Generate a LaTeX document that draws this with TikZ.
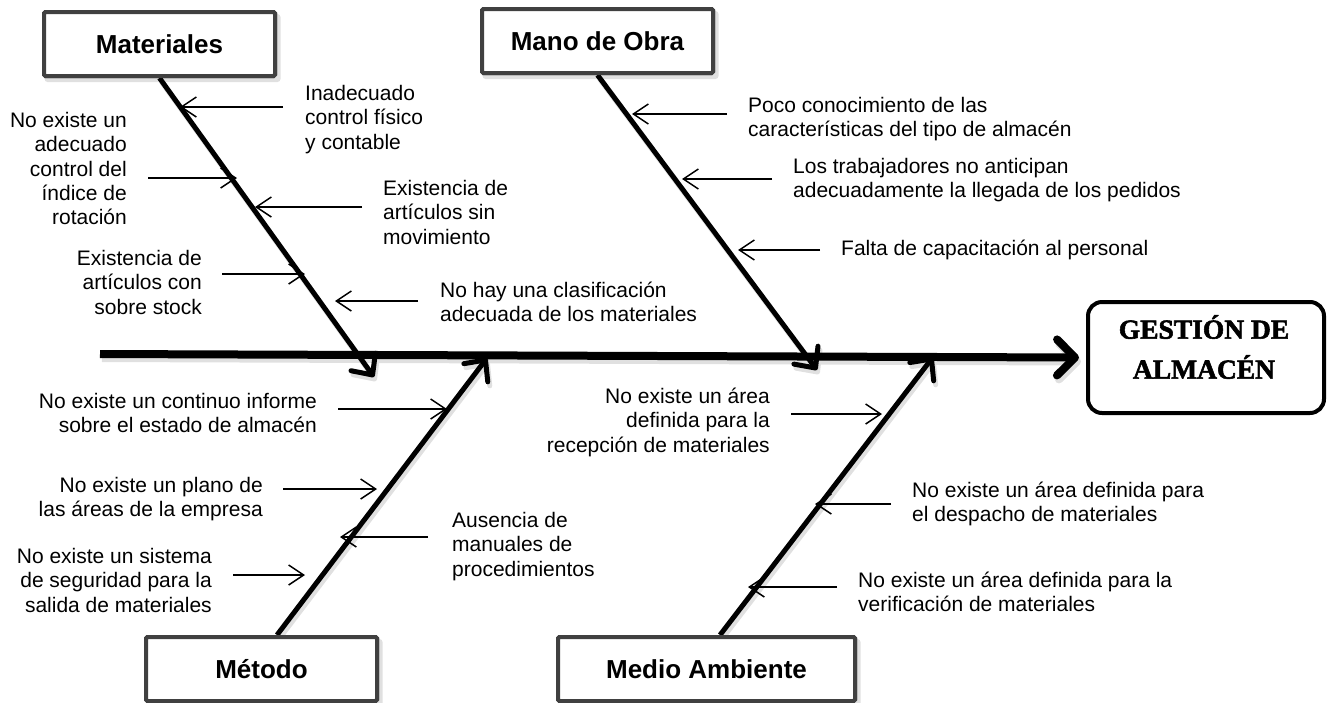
\documentclass[tikz,border=0pt]{standalone}
\usepackage{fontspec}
\setmainfont{Liberation Sans}
\newfontfamily\titlefont[BoldFeatures={FakeBold=2}]{Liberation Serif}
\usetikzlibrary{arrows.meta}
\begin{document}
\begin{tikzpicture}[x=1pt,y=-1pt,
  lbl/.style={font=\fontsize{21}{24.3}\selectfont, inner sep=0pt},
  lblL/.style={lbl, align=left, anchor=north west},
  lblR/.style={lbl, align=right, anchor=north east},
  cat/.style={draw=black!75, line width=4pt, fill=white, rounded corners=1.5pt,
    font=\bfseries\fontsize{26}{30}\selectfont, minimum width=231pt, minimum height=64pt, inner sep=0pt},
  catshadow/.style={fill=black!12, draw=none, rounded corners=3pt,
    minimum width=236pt, minimum height=68pt, inner sep=0pt},
  effect/.style={draw=black, line width=4pt, fill=white, rounded corners=14pt,
    minimum width=236pt, minimum height=111pt, inner sep=0pt},
  effecttext/.style={font=\titlefont\bfseries\fontsize{27.5}{40}\selectfont, align=center, inner sep=0pt},
  bone/.style={line width=5pt, -{Straight Barb[length=16pt,width=30pt,line cap=round,line join=round]}},
  spine/.style={line width=8pt, -{Straight Barb[length=18pt,width=36pt,line cap=round,line join=round]}},
  shadowline/.style={draw=black!12, transform canvas={shift={(2,4)}}},
  cause/.style={line width=1.5pt, -{Straight Barb[length=15pt,width=20pt]}}
]
\useasboundingbox (0,0) rectangle (1333,702);

% shadows of boxes
\node[catshadow] (matS) at (162.5,48) {};
\node[catshadow] (manoS) at (600.5,45) {};
\node[catshadow] (metS) at (264.5,673) {};
\node[catshadow, minimum width=302pt] (medS) at (709.5,673) {};

% category boxes and effect
\node[cat] (mat) at (159.5,44) {Materiales};
\node[cat] (mano) at (597.5,41) {Mano de Obra};
\node[cat] (met) at (261.5,669) {Método};
\node[cat, minimum width=297pt] (med) at (706.5,669) {Medio Ambiente};
\node[effect] (gest) at (1206,357.5) {};
\node[effecttext] (gestT) at (1204,347) {GESTIÓN DE\\ALMACÉN};

% spine and bones
\coordinate (sL) at (100,354);
\coordinate (matT) at (374,377);
\coordinate (manoT) at (817,370);
\coordinate (metT) at (487,358);
\coordinate (medT) at (933,357);
\draw[spine, shadowline] (sL) -- ([xshift=-7pt]gest.west);
\draw[bone, shadowline] (mat.south) -- (matT);
\draw[bone, shadowline] (mano.south) -- (manoT);
\draw[bone, shadowline] ([xshift=15.5pt]met.north) -- (metT);
\draw[bone, shadowline] ([xshift=13.5pt]med.north) -- (medT);
\draw[spine] (sL) -- ([xshift=-7pt]gest.west);
\draw[bone] (mat.south) -- (matT);
\draw[bone] (mano.south) -- (manoT);
\draw[bone] ([xshift=15.5pt]met.north) -- (metT);
\draw[bone] ([xshift=13.5pt]med.north) -- (medT);
% redraw boxes on top of bone starts
\node[cat] at (mat) {Materiales};
\node[cat] at (mano) {Mano de Obra};
\node[cat] at (met) {Método};
\node[cat, minimum width=297pt] at (med) {Medio Ambiente};

% cause arrows: start (a) -> tip (b)
\coordinate (a1) at (283,107);  \coordinate (b1) at (180,107);
\coordinate (a2) at (148,178);  \coordinate (b2) at (237,178);
\coordinate (a3) at (362,207);  \coordinate (b3) at (255,207);
\coordinate (a4) at (222,274);  \coordinate (b4) at (305,274);
\coordinate (a5) at (418,301);  \coordinate (b5) at (335,301);
\coordinate (a6) at (727,114);  \coordinate (b6) at (632,114);
\coordinate (a7) at (772,179);  \coordinate (b7) at (682,179);
\coordinate (a8) at (820,250);  \coordinate (b8) at (738,250);
\coordinate (a9) at (338,409);  \coordinate (b9) at (447,409);
\coordinate (a10) at (283,489); \coordinate (b10) at (377,489);
\coordinate (a11) at (428,537); \coordinate (b11) at (340,537);
\coordinate (a12) at (233,575); \coordinate (b12) at (305,575);
\coordinate (a13) at (791,414); \coordinate (b13) at (882,414);
\coordinate (a14) at (891,504); \coordinate (b14) at (815,504);
\coordinate (a15) at (837,587); \coordinate (b15) at (748,587);
\foreach \i in {1,...,15} { \draw[cause] (a\i) -- (b\i); }

% cause texts
\node[lblL] (t1) at (305,85) {Inadecuado\\control físico\\y contable};
\node[lblR] (t2) at (127,112) {No existe un\\adecuado\\control del\\índice de\\rotación};
\node[lblL] (t3) at (383,180) {Existencia de\\artículos sin\\movimiento};
\node[lblR] (t4) at (202,250) {Existencia de\\artículos con\\sobre stock};
\node[lblL] (t5) at (440,282) {No hay una clasificación\\adecuada de los materiales};
\node[lblL] (t6) at (748,97) {Poco conocimiento de las\\características del tipo de almacén};
\node[lblL] (t7) at (793,158) {Los trabajadores no anticipan\\adecuadamente la llegada de los pedidos};
\node[lblL] (t8) at (841,240) {Falta de capacitación al personal};
\node[lblR] (t9) at (317,393) {No existe un continuo informe\\sobre el estado de almacén};
\node[lblR] (t10) at (263,477) {No existe un plano de\\las áreas de la empresa};
\node[lblL] (t11) at (452,512) {Ausencia de\\manuales de\\procedimientos};
\node[lblR] (t12) at (212,548) {No existe un sistema\\de seguridad para la\\salida de materiales};
\node[lblR] (t13) at (770,388) {No existe un área\\definida para la\\recepción de materiales};
\node[lblL] (t14) at (912,482) {No existe un área definida para\\el despacho de materiales};
\node[lblL] (t15) at (858,572) {No existe un área definida para la\\verificación de materiales};
\end{tikzpicture}
\end{document}
